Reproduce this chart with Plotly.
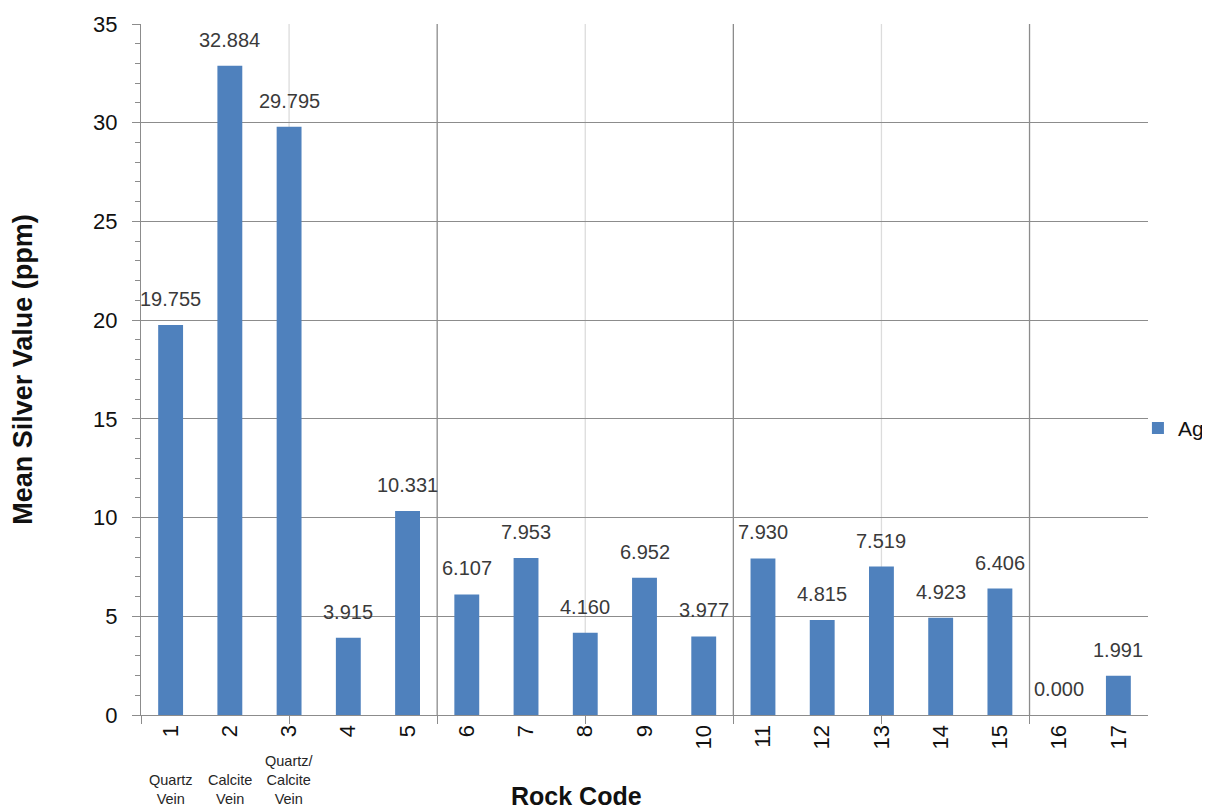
import plotly.graph_objects as go

codes = list(range(1, 18))
tick_labels = [str(c) for c in codes]
ag_values = [19.755, 32.884, 29.795, 3.915, 10.331, 6.107, 7.953, 4.160, 6.952,
             3.977, 7.930, 4.815, 7.519, 4.923, 6.406, 0.000, 1.991]
rock_names = {1: "Quartz<br>Vein", 2: "Calcite<br>Vein", 3: "Quartz/<br>Calcite<br>Vein"}
major_vlines = [5.5, 10.5, 15.5]
minor_vlines = [3, 8, 13]
x_tick_marks = [0.5, 3, 5.5, 8, 10.5, 13, 15.5]

FONT = "Liberation Sans, Arial, sans-serif"
BAR = "#4F81BD"
GRID = "#8C8C8C"
OFF = 8  # page body margin
W, H = 1210 - OFF, 812 - OFF
L, R, T, B = 141 - OFF, 62, 24 - OFF, 97

fig = go.Figure()
fig.add_trace(go.Bar(
    x=codes, y=ag_values, name="Ag", width=0.42,
    marker=dict(color=BAR, line=dict(width=0)),
))

annotations = []
for c, v in zip(codes, ag_values):
    annotations.append(dict(x=c, y=v, xref="x", yref="y", text=f"{v:.3f}",
                            showarrow=False, yanchor="bottom", yshift=13,
                            font=dict(family=FONT, size=20, color="#3a3a3a")))
for c, name in rock_names.items():
    annotations.append(dict(x=c, y=0, xref="x", yref="y", text=name,
                            showarrow=False, yanchor="bottom", yshift=-94,
                            font=dict(family=FONT, size=14.5, color="#262626")))
annotations.append(dict(x=(576 - 141) / (1148 - 141), xref="paper", y=0, yref="paper",
                        text="<b>Rock Code</b>",
                        showarrow=False, yanchor="bottom", yshift=-97, xanchor="center",
                        font=dict(family=FONT, size=25, color="#111111")))

shapes = []
for xv in major_vlines:
    shapes.append(dict(type="line", xref="x", yref="paper", x0=xv, x1=xv, y0=0, y1=1,
                       line=dict(color=GRID, width=1.3), layer="below"))
for xv in minor_vlines:
    shapes.append(dict(type="line", xref="x", yref="paper", x0=xv, x1=xv, y0=0, y1=1,
                       line=dict(color="#DCDCDC", width=1.3), layer="below"))

fig.update_layout(
    width=W, height=H,
    margin=dict(l=L, r=R, t=T, b=B, autoexpand=False),
    paper_bgcolor="white", plot_bgcolor="white",
    font=dict(family=FONT, color="#111111"),
    showlegend=True,
    legend=dict(x=0.99, y=0.415, xanchor="left", yanchor="middle",
                font=dict(family=FONT, size=21, color="#111111"),
                itemwidth=30, bgcolor="rgba(0,0,0,0)"),
    annotations=annotations,
    shapes=shapes,
    bargap=0.58,
)
fig.update_xaxes(
    range=[0.5, 17.5], tickmode="array", tickvals=codes, ticktext=tick_labels,
    tickangle=-90, ticks="", showgrid=False, zeroline=False,
    showline=True, linecolor=GRID, linewidth=1.3,
    tickfont=dict(family=FONT, size=22, color="#111111"),
    minor=dict(tickmode="array", tickvals=x_tick_marks, ticks="outside", ticklen=8,
               tickcolor=GRID, showgrid=False),
)
fig.update_yaxes(
    range=[0, 35], tick0=0, dtick=5, ticks="outside", ticklen=8, tickcolor=GRID,
    showgrid=True, gridcolor=GRID, gridwidth=1.3, zeroline=False,
    showline=True, linecolor=GRID, linewidth=1.3,
    tickfont=dict(family=FONT, size=22, color="#111111"),
    ticklabelstandoff=10,
    minor=dict(dtick=1, ticks="outside", ticklen=5, tickcolor=GRID, showgrid=False),
    title=dict(text="<b>Mean Silver Value (ppm)</b>", standoff=54,
               font=dict(family=FONT, size=27, color="#111111")),
)

fig.write_html("out.html")
